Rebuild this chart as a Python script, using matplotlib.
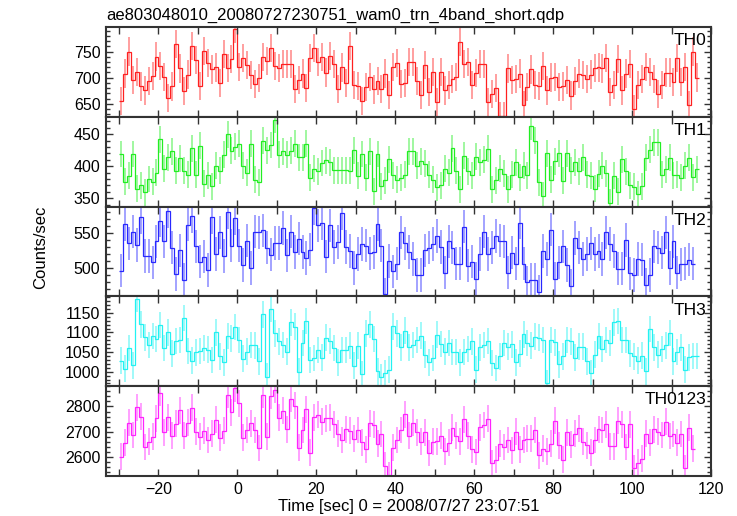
import matplotlib
matplotlib.use("Agg")
import matplotlib.pyplot as plt
from matplotlib.ticker import MultipleLocator
import numpy as np

plt.rcParams['font.family'] = ['Liberation Sans', 'DejaVu Sans']

title = "ae803048010_20080727230751_wam0_trn_4band_short.qdp"
t_start = -30.0
bin_width = 1.0

# count rates, one value per 1-s bin
th0 = [654.7, 707.9, 750.0, 696.2, 711.1, 683.2, 675.4, 693.0, 703.3, 740.3,
       722.8, 701.4, 660.5, 683.2, 764.3, 717.6, 674.1, 705.9, 761.0, 733.8,
       683.9, 751.3, 728.6, 715.6, 719.5, 690.4, 744.8, 718.9, 735.8, 794.1,
       720.8, 737.0, 724.1, 704.6, 688.4, 699.4, 739.0, 731.9, 756.5, 722.1,
       718.9, 726.0, 726.0, 726.0, 678.7, 694.9, 707.9, 680.0, 738.3, 756.5,
       730.6, 739.0, 709.8, 741.0, 725.4, 678.7, 719.5, 690.4, 761.0, 685.2,
       683.9, 655.3, 681.3, 701.4, 677.4, 693.6, 678.7, 707.9, 667.0, 720.8,
       728.6, 688.4, 690.4, 729.3,
       729.3, 693.0, 667.0, 724.1, 672.2, 711.1, 652.8, 711.1, 675.4, 685.2,
       698.1, 701.4, 768.2, 726.0, 729.3, 686.5, 709.2, 725.4, 726.0, 652.8,
       669.0, 680.0, 626.8, 626.8, 717.6, 694.9, 698.1, 707.9, 647.6, 681.9,
       715.6, 686.5, 683.9, 722.1, 675.4, 700.1, 701.4, 681.3, 683.2, 694.9,
       665.7, 693.6, 707.9, 704.6, 696.8, 705.9, 718.9, 719.5, 717.6, 738.3,
       672.2, 685.2, 735.8, 675.4, 707.9, 725.4, 639.8, 686.5, 698.1, 720.8,
       711.1, 698.1, 669.0, 686.5, 709.8, 709.8, 691.7, 737.0, 691.7, 720.8,
       647.6, 750.0, 700.1]

th1 = [419, 376, 385, 419, 365, 370, 359, 380, 376, 390,
       442, 396, 414, 423, 393, 412, 393, 387, 428, 387,
       432, 373, 386, 369, 401, 393, 418, 450, 424, 430,
       435, 401, 390, 435, 379, 375, 440, 425, 433, 472,
       418, 423, 418, 424, 435, 414, 414, 435, 382, 396,
       392, 405, 409, 406, 394, 394, 394, 394, 393, 425,
       385, 419, 382, 423, 361, 419, 369, 378, 411, 386,
       379, 382, 387, 423,
       423, 401, 408, 404, 387, 379, 367, 370, 396, 390,
       428, 393, 364, 416, 392, 386, 415, 406, 410, 427,
       364, 378, 396, 388, 364, 387, 406, 383, 401, 386,
       462, 440, 375, 354, 420, 379, 408, 420, 377, 420,
       393, 406, 392, 414, 387, 385, 365, 388, 401, 389,
       343, 385, 360, 411, 392, 370, 368, 356, 369, 413,
       426, 437, 437, 387, 395, 413, 386, 387, 382, 401,
       413, 383, 395]

th2 = [496, 563, 535, 552, 533, 573, 517, 517, 508, 538,
       568, 538, 581, 529, 491, 525, 483, 562, 574, 531,
       509, 516, 497, 573, 520, 551, 517, 580, 532, 571,
       532, 504, 539, 500, 552, 551, 554, 529, 519, 536,
       536, 557, 518, 552, 523, 542, 523, 514, 526, 586,
       561, 564, 516, 561, 530, 537, 579, 530, 524, 500,
       520, 534, 532, 521, 523, 563, 532, 462, 510, 495,
       506, 551, 535, 523,
       513, 490, 490, 525, 529, 534, 546, 530, 493, 538,
       529, 506, 506, 559, 503, 509, 484, 520, 552, 520,
       529, 546, 539, 538, 493, 522, 506, 565, 506, 479,
       483, 483, 466, 524, 513, 555, 484, 508, 531, 504,
       474, 543, 529, 513, 520, 535, 520, 524, 513, 551,
       534, 524, 499, 499, 540, 492, 490, 513, 512, 476,
       490, 531, 529, 522, 551, 500, 538, 493, 505, 506,
       512, 506]

th3 = [1028, 1008, 1060, 1016, 1186, 1121, 1088, 1068, 1091, 1083,
       1119, 1060, 1100, 1046, 1078, 1081, 1137, 1053, 1028, 1049,
       1053, 1060, 1056, 1030, 1100, 1039, 1024, 1091, 1085, 1114,
       1081, 1033, 1051, 1068, 1067, 1026, 1146, 987, 1161, 1098,
       1077, 1068, 1051, 1126, 1115, 1000, 1073, 1129, 1030, 1035,
       1055, 1036, 1087, 1078, 1060, 1024, 1055, 1055, 1066, 1015,
       1066, 994, 1097, 1121, 1083, 1001, 986, 997, 1005, 1116,
       1098, 1062, 1105, 1062,
       1068, 1081, 1092, 1043, 1024, 1035, 1094, 1071, 1051, 1073,
       1050, 1050, 1024, 1050, 1058, 1077, 1005, 1062, 1068, 1078,
       1022, 1009, 1039, 1073, 1064, 1070, 1024, 1046, 1095, 1073,
       1066, 1089, 1087, 1081, 971, 1081, 1075, 1019, 1039, 1081,
       1077, 1036, 1064, 1064, 1026, 997, 1043, 1091, 1058, 1081,
       1073, 1126, 1129, 1081, 1081, 1047, 1039, 1028, 1041, 1001,
       1109, 1062, 1043, 1058, 1067, 1099, 1026, 1050, 1062, 1005,
       1037, 1040, 1040]

th0123 = [2601, 2657, 2736, 2687, 2797, 2760, 2640, 2661, 2681, 2753,
          2853, 2697, 2757, 2684, 2731, 2784, 2684, 2736, 2795, 2700,
          2681, 2704, 2667, 2692, 2747, 2677, 2704, 2845, 2777, 2872,
          2812, 2677, 2707, 2733, 2707, 2636, 2845, 2680, 2843, 2865,
          2756, 2783, 2709, 2831, 2803, 2637, 2707, 2789, 2617, 2757,
          2767, 2739, 2753, 2756, 2729, 2693, 2667, 2709, 2704, 2673,
          2707, 2659, 2631, 2733, 2728, 2653, 2691, 2565, 2529, 2637,
          2667, 2707, 2769, 2684,
          2736, 2697, 2660, 2697, 2616, 2660, 2663, 2684, 2623, 2657,
          2716, 2684, 2663, 2749, 2684, 2631, 2620, 2717, 2727, 2751,
          2576, 2589, 2653, 2640, 2667, 2627, 2700, 2631, 2667, 2673,
          2673, 2707, 2607, 2633, 2623, 2653, 2744, 2647, 2589, 2697,
          2649, 2693, 2713, 2660, 2647, 2617, 2667, 2709, 2707, 2729,
          2643, 2643, 2743, 2729, 2640, 2729, 2557, 2577, 2593, 2693,
          2656, 2709, 2700, 2687, 2740, 2683, 2691, 2657, 2691, 2557,
          2716, 2633]

names = ["TH0", "TH1", "TH2", "TH3", "TH0123"]
errors = [27, 21, 24, 34, 53]           # half length of error bars
ylims = [(625, 797), (337, 477), (459, 588), (963, 1192), (2525, 2880)]
ymajor = [50, 50, 50, 50, 100]
yminor = [10, 10, 10, 10, 20]
colors = ["#ff2020", "#22ee22", "#2828ff", "#22f2f2", "#ff22ff"]
series = [th0, th1, th2, th3, th0123]

fig = plt.figure(figsize=(7.37, 5.16), dpi=100)
left, right, top, bottom = 0.1438, 0.9647, 0.9477, 0.0775
h = (top - bottom) / 5
axes = []
for k in range(5):
    ax = fig.add_axes([left, top - (k + 1) * h, right - left, h])
    axes.append(ax)

for k, ax in enumerate(axes):
    vals = np.array(series[k], dtype=float)
    n = len(vals)
    edges = t_start + bin_width * np.arange(n + 1)
    centers = 0.5 * (edges[:-1] + edges[1:])
    ax.vlines(centers, vals - errors[k], vals + errors[k], color=colors[k],
              lw=1.2, alpha=0.5)
    ax.stairs(vals, edges, color=colors[k], lw=0.9, baseline=None)
    ax.set_xlim(-33.3, 120)
    ax.set_ylim(*ylims[k])
    ax.xaxis.set_major_locator(MultipleLocator(20))
    ax.xaxis.set_minor_locator(MultipleLocator(10))
    ax.yaxis.set_major_locator(MultipleLocator(ymajor[k]))
    ax.yaxis.set_minor_locator(MultipleLocator(yminor[k]))
    ax.tick_params(which="both", direction="in", top=True, right=True,
                   color="#333333", width=1.0, labelsize=11.5, pad=4)
    ax.tick_params(which="major", length=5)
    ax.tick_params(which="minor", length=3)
    ax.tick_params(axis="x", which="minor", length=5)
    for s in ax.spines.values():
        s.set_linewidth(1.5)
        s.set_color("#333333")
    if k < 4:
        ax.tick_params(axis="x", labelbottom=False)
    ax.text(0.993, 0.93, names[k], transform=ax.transAxes, ha="right", va="top",
            fontsize=12.5)

# only the inner values carry labels
axes[0].set_yticks([650, 700, 750])
axes[1].set_yticks([350, 400, 450])
axes[2].set_yticks([500, 550])
axes[3].set_yticks([1000, 1050, 1100, 1150])
axes[4].set_yticks([2600, 2700, 2800])
axes[4].set_xticks([-20, 0, 20, 40, 60, 80, 100, 120])

axes[0].set_title(title, loc="left", fontsize=12, pad=5)
axes[4].set_xlabel("Time [sec] 0 = 2008/07/27 23:07:51", fontsize=12, labelpad=2)
fig.text(0.055, 0.52, "Counts/sec", rotation=90, ha="center", va="center",
         fontsize=12)

fig.savefig("out.png", dpi=100)
